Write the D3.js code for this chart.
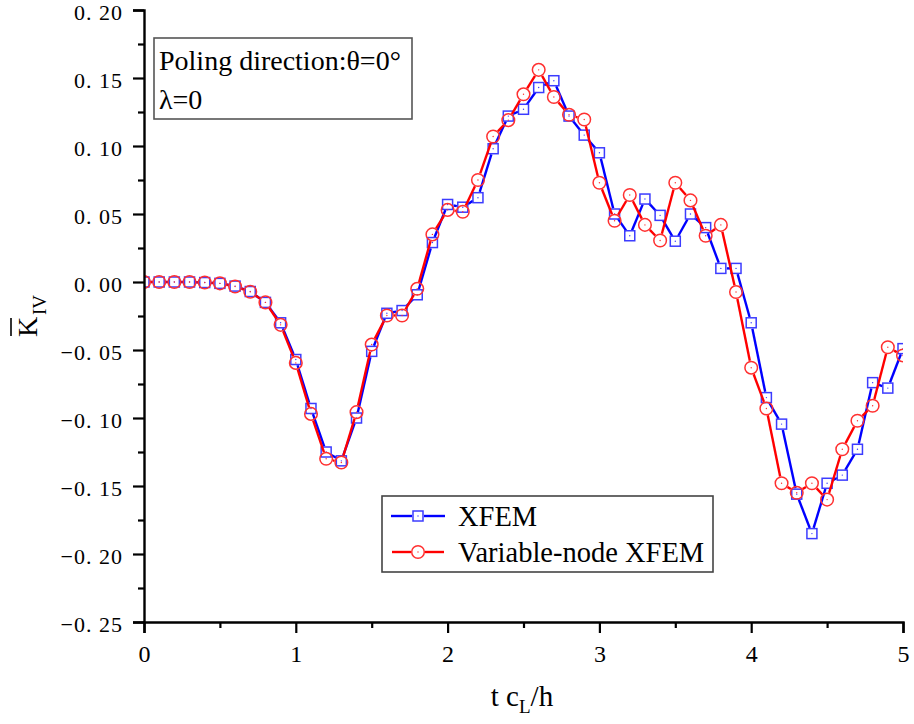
<!DOCTYPE html>
<html>
<head>
<meta charset="utf-8">
<script src="https://cdn.jsdelivr.net/npm/d3@7"></script>
<style>
  body { margin: 0; background: #fff; }
  text { font-family: "Liberation Serif", "Times New Roman", "DejaVu Serif", serif; fill: #000; }
</style>
</head>
<body>
<svg id="chart" width="914" height="724"></svg>
<script>
// data
const tcl = [0, 0.1, 0.2, 0.3, 0.4, 0.5, 0.6, 0.7, 0.8, 0.9,
             1.0, 1.1, 1.2, 1.3, 1.4, 1.5, 1.6, 1.7, 1.8, 1.9,
             2.0, 2.1, 2.2, 2.3, 2.4, 2.5, 2.6, 2.7, 2.8, 2.9,
             3.0, 3.1, 3.2, 3.3, 3.4, 3.5, 3.6, 3.7, 3.8, 3.9,
             4.0, 4.1, 4.2, 4.3, 4.4, 4.5, 4.6, 4.7, 4.8, 4.9, 5.0];
const xfem = [0, 0, 0, 0, -0.0004, -0.001, -0.003, -0.007, -0.015, -0.030,
              -0.057, -0.093, -0.125, -0.1315, -0.100, -0.051, -0.023, -0.021, -0.0094, 0.029,
              0.057, 0.055, 0.062, 0.098, 0.122, 0.127, 0.143, 0.148, 0.122, 0.108,
              0.095, 0.050, 0.034, 0.061, 0.049, 0.030, 0.050, 0.040, 0.010, 0.010,
              -0.030, -0.085, -0.1045, -0.156, -0.185, -0.148, -0.142, -0.123, -0.074, -0.078, -0.049];
const vnxfem = [0, 0, 0, 0, -0.0004, -0.001, -0.0033, -0.0072, -0.015, -0.0315,
                -0.0595, -0.097, -0.130, -0.1327, -0.0957, -0.046, -0.0246, -0.0246, -0.005, 0.035,
                0.053, 0.0516, 0.075, 0.107, 0.119, 0.138, 0.156, 0.136, 0.123, 0.1195,
                0.073, 0.045, 0.064, 0.042, 0.0305, 0.073, 0.060, 0.034, 0.042, -0.0074,
                -0.063, -0.093, -0.148, -0.155, -0.148, -0.160, -0.123, -0.102, -0.091, -0.048, -0.054];
const xTicks = [0, 1, 2, 3, 4, 5];
const xMinor = [0.5, 1.5, 2.5, 3.5, 4.5];
const yTicks = [-0.25, -0.20, -0.15, -0.10, -0.05, 0, 0.05, 0.10, 0.15, 0.20];
const yMinor = [-0.225, -0.175, -0.125, -0.075, -0.025, 0.025, 0.075, 0.125, 0.175];
const seriesNames = ["XFEM", "Variable-node XFEM"];

var svg = d3.select("#chart");

var x = d3.scaleLinear().domain([0, 5]).range([144, 903]);
var y = d3.scaleLinear().domain([-0.25, 0.20]).range([622, 10]);

var blue = "#0000ff", blueMk = "#3c3cff";
var red = "#ff0000", redMk = "#ff3030";

svg.append("defs").append("clipPath").attr("id", "plotclip")
  .append("rect").attr("x", 144).attr("y", 0).attr("width", 759).attr("height", 622);

// lines with little gaps round the markers, like Origin draws them
function gapSegments(pts, gap) {
  var segs = [];
  for (var i = 0; i < pts.length - 1; i++) {
    var a = pts[i], b = pts[i + 1];
    var dx = b[0] - a[0], dy = b[1] - a[1];
    var len = Math.sqrt(dx * dx + dy * dy);
    if (len <= 2 * gap) continue;
    var ux = dx / len, uy = dy / len;
    segs.push([a[0] + ux * gap, a[1] + uy * gap, b[0] - ux * gap, b[1] - uy * gap]);
  }
  return segs;
}

var plot = svg.append("g").attr("clip-path", "url(#plotclip)");

var bluePts = tcl.map(function(t, i) { return [x(t), y(xfem[i])]; });
var redPts = tcl.map(function(t, i) { return [x(t), y(vnxfem[i])]; });

plot.selectAll("line.blue")
  .data(gapSegments(bluePts, 6))
  .enter().append("line")
    .attr("x1", d => d[0]).attr("y1", d => d[1])
    .attr("x2", d => d[2]).attr("y2", d => d[3])
    .attr("stroke", blue).attr("stroke-width", 2.4);

// squares
plot.selectAll("rect.sq")
  .data(bluePts)
  .enter().append("rect")
    .attr("x", d => d[0] - 5).attr("y", d => d[1] - 5)
    .attr("width", 10).attr("height", 10)
    .attr("fill", "none").attr("stroke", blueMk).attr("stroke-width", 1.5);
plot.selectAll("circle.bdot")
  .data(bluePts)
  .enter().append("circle")
    .attr("cx", d => d[0]).attr("cy", d => d[1]).attr("r", 0.7)
    .attr("fill", blueMk);

plot.selectAll("line.red")
  .data(gapSegments(redPts, 7))
  .enter().append("line")
    .attr("x1", d => d[0]).attr("y1", d => d[1])
    .attr("x2", d => d[2]).attr("y2", d => d[3])
    .attr("stroke", red).attr("stroke-width", 2.4);

plot.selectAll("circle.ci")
  .data(redPts)
  .enter().append("circle")
    .attr("cx", d => d[0]).attr("cy", d => d[1]).attr("r", 6.3)
    .attr("fill", "none").attr("stroke", redMk).attr("stroke-width", 1.5);
plot.selectAll("circle.rdot")
  .data(redPts)
  .enter().append("circle")
    .attr("cx", d => d[0]).attr("cy", d => d[1]).attr("r", 0.7)
    .attr("fill", redMk);

// axes
function yfmt(d) {
  var s = Math.abs(d).toFixed(2).split(".");
  return (d < -1e-9 ? "\u2212" : "") + s[0] + ". " + s[1];
}

var yAxis = svg.append("g")
  .attr("transform", "translate(144,0)")
  .call(d3.axisLeft(y).tickValues(yTicks).tickSize(11).tickPadding(10).tickFormat(yfmt));
svg.append("g")
  .attr("transform", "translate(144,0)")
  .call(d3.axisLeft(y).tickValues(yMinor).tickSize(6).tickFormat(""))
  .select(".domain").remove();

var xAxis = svg.append("g")
  .attr("transform", "translate(0,622)")
  .call(d3.axisBottom(x).tickValues(xTicks).tickSize(11).tickPadding(12).tickFormat(d3.format("d")));
svg.append("g")
  .attr("transform", "translate(0,622)")
  .call(d3.axisBottom(x).tickValues(xMinor).tickSize(6).tickFormat(""))
  .select(".domain").remove();

svg.selectAll(".domain").attr("stroke", "#000").attr("stroke-width", 2.4);
svg.selectAll(".tick line").attr("stroke", "#000").attr("stroke-width", 2.2);
svg.selectAll(".tick text")
  .style("font-family", "'Liberation Serif', 'Times New Roman', serif")
  .attr("fill", "#000");
xAxis.selectAll(".tick text").style("font-size", "24px");
yAxis.selectAll(".tick text")
  .style("font-size", "22px")
  .attr("dy", "0.45em")
  .attr("letter-spacing", "1px");

// axis titles
var xt = svg.append("text")
  .attr("x", 522).attr("y", 706)
  .attr("text-anchor", "middle")
  .style("font-size", "29px");
xt.append("tspan").text("t c");
xt.append("tspan").text("L").style("font-size", "19px").attr("dy", 7);
xt.append("tspan").text("/h").attr("dy", -7);

var yt = svg.append("g").attr("transform", "translate(37,337) rotate(-90)");
yt.append("text").attr("x", 0).attr("y", 0)
  .style("font-size", "28px").text("K");
yt.append("line")
  .attr("x1", 1).attr("x2", 19)
  .attr("y1", -26).attr("y2", -26)
  .attr("stroke", "#000").attr("stroke-width", 1.6);
yt.append("text").attr("x", 22).attr("y", 9)
  .style("font-size", "19px").text("IV");

// annotation box
svg.append("rect")
  .attr("x", 154).attr("y", 38).attr("width", 258).attr("height", 81)
  .attr("fill", "#fff").attr("stroke", "#555").attr("stroke-width", 1.6);
svg.append("text").attr("x", 159).attr("y", 70)
  .style("font-size", "28px").text("Poling direction:\u03b8=0\u00b0");
svg.append("text").attr("x", 159).attr("y", 109)
  .style("font-size", "28px").text("\u03bb=0");

// legend
var lg = svg.append("g");
lg.append("rect")
  .attr("x", 382).attr("y", 496).attr("width", 331).attr("height", 76)
  .attr("fill", "#fff").attr("stroke", "#444").attr("stroke-width", 1.6);

var legendRows = [
  {name: seriesNames[0], color: blue, mk: blueMk, shape: "square", y: 516},
  {name: seriesNames[1], color: red, mk: redMk, shape: "circle", y: 552}
];
legendRows.forEach(function(r) {
  var segs = gapSegments([[385, r.y], [418, r.y], [451, r.y]], r.shape == "square" ? 6 : 7);
  segs.forEach(function(s) {
    lg.append("line").attr("x1", s[0]).attr("y1", s[1]).attr("x2", s[2]).attr("y2", s[3])
      .attr("stroke", r.color).attr("stroke-width", 2.4);
  });
  if (r.shape == "square") {
    lg.append("rect").attr("x", 413).attr("y", r.y - 5).attr("width", 10).attr("height", 10)
      .attr("fill", "none").attr("stroke", r.mk).attr("stroke-width", 1.5);
  } else {
    lg.append("circle").attr("cx", 418).attr("cy", r.y).attr("r", 6.3)
      .attr("fill", "none").attr("stroke", r.mk).attr("stroke-width", 1.5);
  }
  lg.append("circle").attr("cx", 418).attr("cy", r.y).attr("r", 0.7).attr("fill", r.mk);
  lg.append("text").attr("x", 458).attr("y", r.y + 10)
    .style("font-size", "28.5px").text(r.name);
});
</script>
</body>
</html>
